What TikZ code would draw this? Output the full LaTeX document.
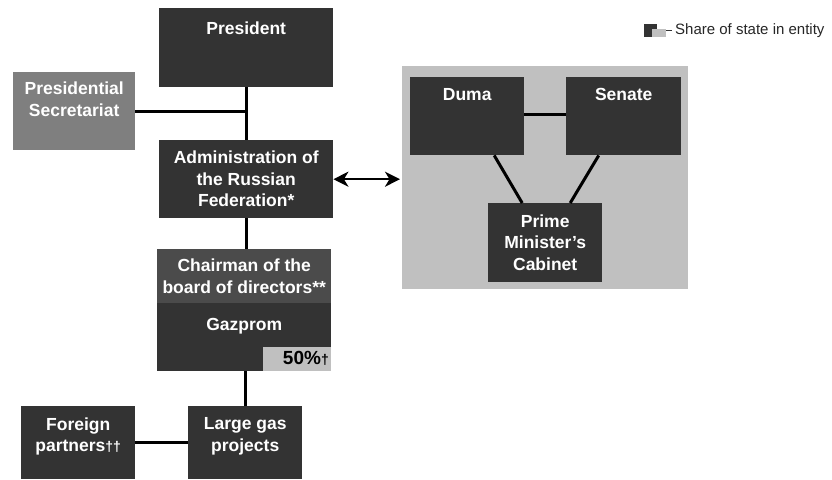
\documentclass[tikz,border=0pt]{standalone}
\usepackage{fontspec}
\setmainfont{Liberation Sans}
\usetikzlibrary{calc,arrows.meta}
\definecolor{boxdark}{HTML}{333333}
\definecolor{boxmid}{HTML}{4B4B4B}
\definecolor{boxgray}{HTML}{7F7F7F}
\definecolor{panelgray}{HTML}{C0C0C0}
\def\boxfont{\bfseries\fontsize{17.5}{21.5}\selectfont}
\def\smalldag{{\fontsize{14}{14}\selectfont\textdagger}}
\tikzset{
  unit/.style={fill=boxdark, text=white, font=\boxfont, align=center, inner sep=0pt, anchor=north west},
  toptext/.style={anchor=north, text=white, font=\boxfont, align=center, inner sep=0pt},
  link/.style={line width=3pt},
  bothway/.style={line width=2.5pt, {Stealth[length=15pt, width=15pt, inset=4.5pt]}-{Stealth[length=15pt, width=15pt, inset=4.5pt]}},
}

\begin{document}
\begin{tikzpicture}[x=1pt, y=-1pt]
			%%%%% START %%%%%
			\useasboundingbox (0,0) rectangle (832,479);
			
			% presidency
			\node[unit, minimum width=174pt, minimum height=79pt, label={[toptext, yshift=-14pt]north:President}] (pres) at (159,8) {};
			\node[unit, fill=boxgray, minimum width=122pt, minimum height=78pt, label={[toptext, yshift=-10pt]north:{Presidential\\Secretariat}}] (sec) at (13,72) {};
			\node[unit, minimum width=174pt, minimum height=78pt] (admin) at (159,140) {Administration of\\the Russian\\Federation*};
			
			% parliament and government
			\node[fill=panelgray, minimum width=286pt, minimum height=223pt, inner sep=0pt, anchor=north west] (panel) at (402,66) {};
			\node[unit, minimum width=114pt, minimum height=78pt, label={[toptext, yshift=-11.5pt]north:Duma}] (duma) at (410,77) {};
			\node[unit, minimum width=115pt, minimum height=78pt, label={[toptext, yshift=-11.5pt]north:Senate}] (senate) at (566,77) {};
			\node[unit, minimum width=114pt, minimum height=79pt] (pm) at (488,203) {Prime\\Minister’s\\Cabinet};
			
			% company
			\node[unit, fill=boxmid, minimum width=174pt, minimum height=54pt] (chair) at (157,249) {Chairman of the\\board of directors**};
			\node[unit, minimum width=174pt, minimum height=68pt, label={[toptext, yshift=-15pt]north:Gazprom}] (gaz) at (157,303) {};
			\node[unit, fill=panelgray, text=black, anchor=south east, minimum height=24pt, text width=64pt, inner xsep=2pt, align=right, font=\bfseries\fontsize{19}{21}\selectfont] (share) at (331,371) {50\%\smalldag};
			
			% projects
			\node[unit, minimum width=114pt, minimum height=73pt, label={[toptext, yshift=-11.5pt]north:{Foreign\\partners\smalldag\smalldag}}] (foreign) at (21,406) {};
			\node[unit, minimum width=114pt, minimum height=73pt, label={[toptext, yshift=-11.5pt]north:{Large gas\\projects}}] (gas) at (188,406) {};
			
			% connectors
			\draw[link] (pres.south) -- (admin.north);
			\draw[link] (sec.east) -- (sec.east -| pres.south);
			\draw[link] (admin.south) -- (admin.south |- chair.north);
			\draw[link] (gaz.south -| gas.north) -- (gas.north);
			\draw[link] (foreign.east |- gas.west) -- (gas.west);
			\draw[bothway] (admin.east) -- ([xshift=-2pt]admin.east -| panel.west);
			\draw[link] (duma.east |- 0,114) -- (senate.west |- 0,114);
			\draw[link] ([xshift=27pt]duma.south) -- ([xshift=-23pt]pm.north);
			\draw[link] ([xshift=-25pt]senate.south) -- ([xshift=25pt]pm.north);
			
			% legend
			\fill[boxdark] (644,24) rectangle (657,37);
			\fill[panelgray] (652,29) rectangle (666,37);
			\draw[line width=1pt, boxdark] (666,30.5) -- (672,30.5);
			\node[anchor=west, inner sep=0pt, text=black!85, font=\fontsize{15}{18}\selectfont] (legend) at (675,31) {Share of state in entity};
			
			%%%%% END %%%%%
		\end{tikzpicture}
\end{document}
